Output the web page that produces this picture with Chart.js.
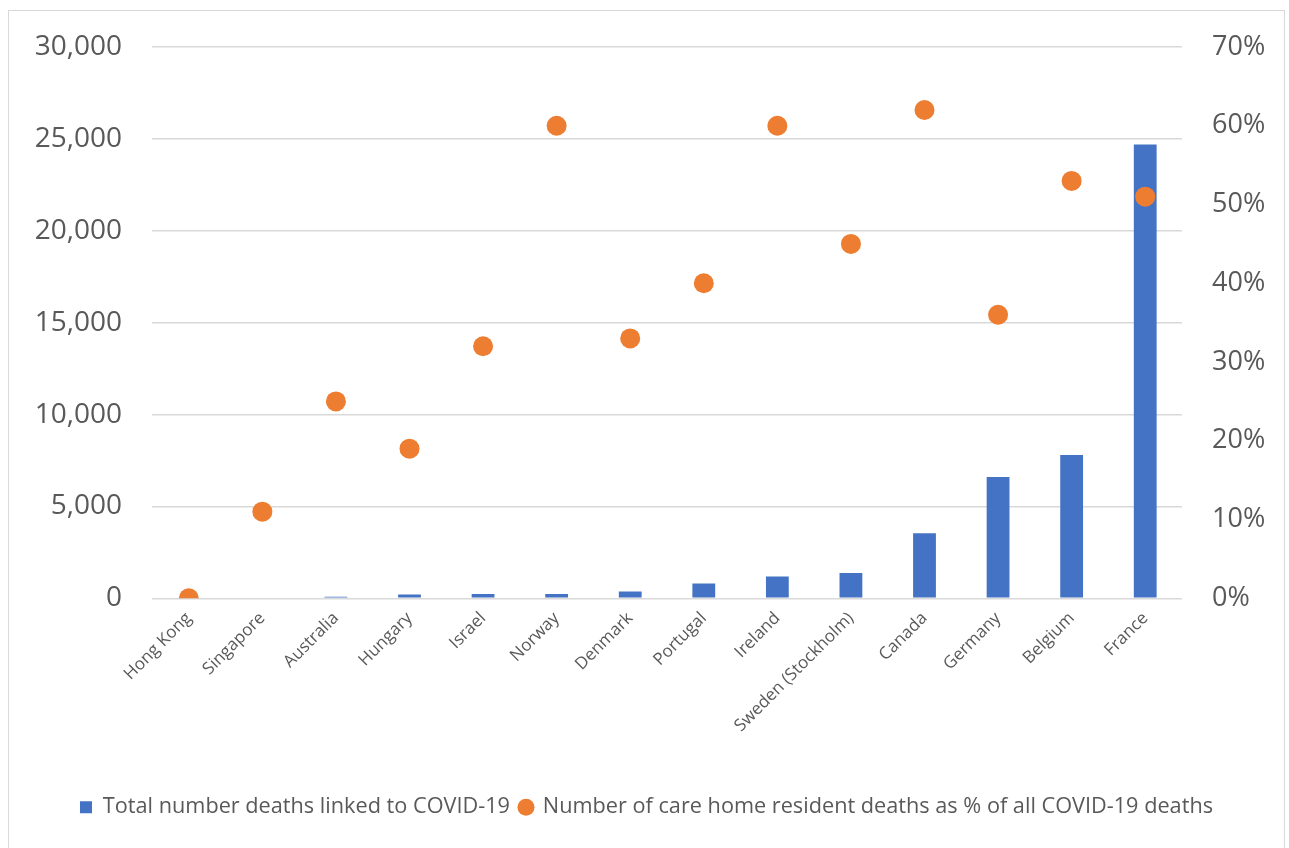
<!DOCTYPE html>
<html>
<head>
<meta charset="utf-8">
<script src="https://cdn.jsdelivr.net/npm/chart.js@4/dist/chart.umd.min.js"></script>
<style>
  html, body { margin: 0; padding: 0; background: #fff; }
  #frame {
    position: absolute; left: 8px; top: 10px; width: 1275px; height: 845px;
    border: 1px solid #d9d9d9; border-bottom: none;
  }
  #box { position: absolute; left: 8px; top: 10px; width: 1277px; height: 838px; }
</style>
</head>
<body>
<div id="frame"></div>
<div id="box"><canvas id="myChart"></canvas></div>
<script>
const countries = ['Hong Kong', 'Singapore', 'Australia', 'Hungary', 'Israel', 'Norway', 'Denmark',
    'Portugal', 'Ireland', 'Sweden (Stockholm)', 'Canada', 'Germany', 'Belgium', 'France']
const totalDeaths = [0, 0, 80, 200, 230, 230, 370, 800, 1190, 1380, 3540, 6600, 7800, 24700]
const careHomePct = [0, 11, 25, 19, 32, 60, 33, 40, 60, 45, 62, 36, 53, 51]
const leftTicks = [0, 5000, 10000, 15000, 20000, 25000, 30000]
const rightTicks = [0, 10, 20, 30, 40, 50, 60, 70]

const textColor = '#595959'
const gridColor = '#d9d9d9'
const fontFamily = "'Open Sans', 'Liberation Sans', sans-serif"

const myChart = document.querySelector('#myChart').getContext('2d')

const chart = new Chart(myChart, {
    data: {
        labels: countries,
        datasets: [{
            type: 'bar',
            label: 'Total number deaths linked to COVID-19',
            data: totalDeaths,
            backgroundColor: '#4472C4',
            barPercentage: 0.31,
            categoryPercentage: 1,
            pointStyle: 'rect',
            yAxisID: 'y',
            order: 2
        }, {
            type: 'line',
            label: 'Number of care home resident deaths as % of all COVID-19 deaths',
            data: careHomePct,
            showLine: false,
            pointRadius: 10,
            pointHoverRadius: 10,
            pointBackgroundColor: '#ED7D31',
            pointBorderColor: '#ED7D31',
            pointBorderWidth: 0,
            backgroundColor: '#ED7D31',
            borderColor: '#ED7D31',
            pointStyle: 'circle',
            yAxisID: 'y1',
            order: 1
        }]
    },
    options: {
        responsive: true,
        maintainAspectRatio: false,
        animation: false,
        layout: { padding: { top: 37, left: 0, right: 0, bottom: 20 } },
        scales: {
            x: {
                grid: { display: false },
                border: { display: false },
                ticks: {
                    color: textColor,
                    font: { family: fontFamily, size: 17 },
                    minRotation: 45,
                    maxRotation: 45,
                    padding: 2
                },
                afterFit: (s) => { s.height = 188 }
            },
            y: {
                position: 'left',
                min: 0,
                max: 30000,
                afterBuildTicks: (s) => { s.ticks = leftTicks.map(v => ({ value: v })) },
                // invisible tick marks give the gap between labels and plot
                grid: { color: gridColor, lineWidth: 1.5, drawTicks: true, tickLength: 30, tickColor: 'rgba(0,0,0,0)' },
                border: { display: false },
                ticks: {
                    color: textColor,
                    font: { family: fontFamily, size: 28 },
                    padding: 0,
                    callback: (v) => v.toLocaleString('en-US')
                },
                afterFit: (s) => { s.width = 144 }
            },
            y1: {
                position: 'right',
                min: 0,
                max: 70,
                afterBuildTicks: (s) => { s.ticks = rightTicks.map(v => ({ value: v })) },
                grid: { display: false, drawOnChartArea: false, drawTicks: true, tickLength: 30, tickColor: 'rgba(0,0,0,0)' },
                border: { display: false },
                ticks: {
                    color: textColor,
                    font: { family: fontFamily, size: 27 },
                    padding: 0,
                    callback: (v) => v + '%'
                },
                afterFit: (s) => { s.width = 103 }
            }
        },
        plugins: {
            tooltip: { enabled: false },
            legend: {
                position: 'bottom',
                labels: {
                    color: textColor,
                    font: { family: fontFamily, size: 21.7 },
                    usePointStyle: true,
                    boxWidth: 12,
                    boxHeight: 12,
                    padding: 10,
                    sort: (a, b) => a.datasetIndex - b.datasetIndex
                }
            }
        }
    }
})
</script>
</body>
</html>
